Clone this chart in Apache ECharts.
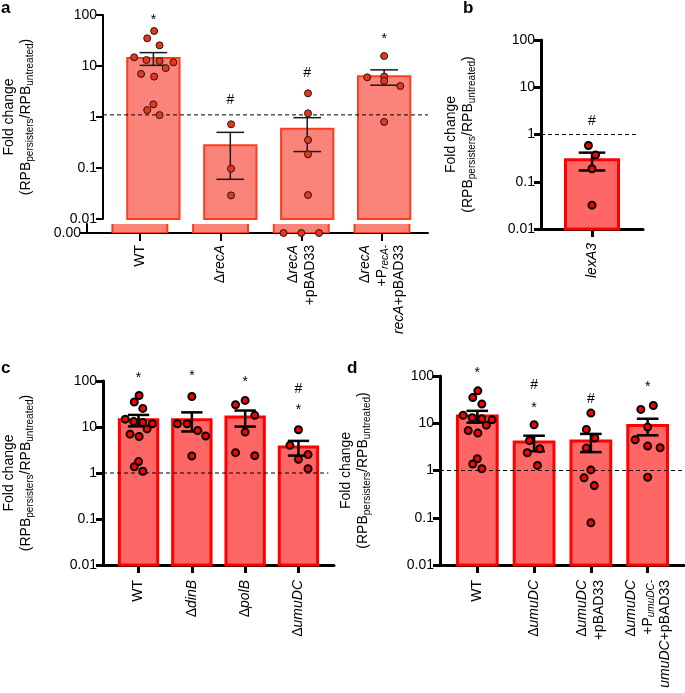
<!DOCTYPE html>
<html>
<head>
<meta charset="utf-8">
<title>Fold change</title>
<script src="https://cdn.jsdelivr.net/npm/echarts@6/dist/echarts.min.js"></script>
<style>
html, body { margin: 0; padding: 0; background: #fff; }
#main { width: 685px; height: 693px; }
</style>
</head>
<body>
<div id="main"></div>
<script>
// ---- data ----
var tickLabels = ['0.01', '0.1', '1', '10', '100'];
var zeroLabel = '0.00';

// panel a
var catA = ['WT', 'Δ{i|recA}', 'Δ{i|recA}\n+pBAD33', 'Δ{i|recA}\n+P{si|recA-}\n{i|recA}+pBAD33'];
var wt = [48.5, 34.9, 25.4, 14.8, 13.1, 12.5, 11.8, 9.1, 7.0, 6.2, 1.77, 1.37, 1.09];
var wtJit = [0.01, -0.08, 0.08, -0.25, -0.09, 0.08, 0.26, 0.16, -0.16, 0.01, 0, -0.08, 0.08];
var recA = [0.72, 0.097, 0.029];
var recAJit = [0.01, 0.01, 0.01];
var recAVec = [2.91, 1.18, 0.354, 0.185, 0.0295, 0, 0, 0];
var recAVecJit = [0.01, 0.01, 0.01, 0.01, 0.01, -0.22, 0, 0.22];
var recACompl = [15.7, 6.0, 6.2, 5.1, 4.05, 0.80];
var recAComplJit = [0, -0.22, 0, 0, 0.21, 0];
var meanA = [14.3, 0.28, 0.59, 6.3];
var semA = [4.0, 0.22, 0.38, 2.1];
var sigA = [['*'], ['#'], ['#'], ['*']];
var sigAY = [[92], [2.15], [7.4], [38.7]];
var refA = 1.1;

// panel b
var catB = ['{i|lexA3}'];
var lexA3 = [0.586, 0.367, 0.188, 0.032];
var lexA3Jit = [-0.035, 0.035, 0, 0];
var meanB = [0.293];
var semB = [0.12];
var sigB = [['#']];
var sigBY = [[1.95]];
var refB = 1;

// panel c
var catC = ['WT', 'Δ{i|dinB}', 'Δ{i|polB}', 'Δ{i|umuDC}'];
var dinB = [46, 11.8, 11.8, 8.4, 6.35, 2.34];
var dinBJit = [0, -0.27, -0.09, 0.11, 0.26, 0];
var polB = [37.8, 30.4, 17.9, 7.76, 2.77, 2.38];
var polBJit = [0, -0.18, 0.18, 0, -0.18, 0.18];
var umuDCc = [8.73, 3.99, 2.51, 1.98, 1.24];
var umuDCcJit = [0, -0.16, 0.18, 0, 0.18];
var meanC = [14.3, 14.4, 16.5, 3.69];
var semC = [4.0, 6.4, 6.3, 1.3];
var sigC = [['*'], ['*'], ['*'], ['#', '*']];
var sigCY = [[131], [147], [108], [67.8, 27]];
var refC = 1;

// panel d
var catD = ['WT', 'Δ{i|umuDC}', 'Δ{i|umuDC}\n+pBAD33', 'Δ{i|umuDC}\n+P{si|umuDC-}\n{i|umuDC}+pBAD33'];
var umuDCd = [9.3, 4.32, 2.88, 2.37, 1.28];
var umuDCdJit = [0, -0.08, 0.1, -0.12, 0.06];
var umuDCVec = [16.4, 7.4, 4.86, 2.98, 1.03, 0.70, 0.48, 0.078];
var umuDCVecJit = [0, -0.08, 0.07, -0.08, 0, -0.12, 0.06, 0];
var umuDCCompl = [23.8, 19.6, 8.3, 4.47, 3.29, 3.03, 0.72];
var umuDCComplJit = [0.1, -0.12, 0, -0.22, 0, 0.22, 0];
var meanD = [14.3, 4.0, 4.2, 9.0];
var semD = [4.0, 1.45, 1.75, 3.45];
var sigD = [['*'], ['#', '*'], ['#'], ['*']];
var sigDY = [[131], [65.4, 24.7], [31.9], [68.7]];
var refD = 1;

// ---- chart ----
var FONT = '"Liberation Sans", Arial, Helvetica, sans-serif';
var yName = 'Fold change\n(RPB{s|persisters}/RPB{s|untreated})';

var option = {
    animation: false,
    backgroundColor: '#fff',
    grid: [], xAxis: [], yAxis: [], series: [],
    graphic: []
};

// bar drawn from "base" up to the value; "fill" > 0 forces the top (used for the broken-axis stub)
function barItem(base, bw, style, fill) {
    return function (params, api) {
        var x = api.value(0), v = fill || api.value(1);
        var top = api.coord([x, v]);
        var bot = api.coord([x, base]);
        var l = api.coord([x - bw / 2, v])[0];
        var r = api.coord([x + bw / 2, v])[0];
        return {
            type: 'rect',
            shape: { x: l, y: top[1], width: r - l, height: bot[1] - top[1] },
            style: style
        };
    };
}

function errItem(cap, style) {
    return function (params, api) {
        var x = api.value(0);
        var lo = api.coord([x, api.value(1)]);
        var hi = api.coord([x, api.value(2)]);
        var l = api.coord([x - cap, api.value(1)])[0];
        var r = api.coord([x + cap, api.value(1)])[0];
        return {
            type: 'group',
            children: [
                { type: 'line', shape: { x1: lo[0], y1: lo[1], x2: hi[0], y2: hi[1] }, style: style },
                { type: 'line', shape: { x1: l, y1: lo[1], x2: r, y2: lo[1] }, style: style },
                { type: 'line', shape: { x1: l, y1: hi[1], x2: r, y2: hi[1] }, style: style }
            ]
        };
    };
}

function addPanel(p) {
    var gi = option.grid.length;
    var lw = p.axisWidth;
    var idx = p.cats.map(function (c, i) { return i; });
    var catRich = {
        i: { fontStyle: 'italic', fontSize: 14, fontFamily: FONT, color: '#000', lineHeight: 17 },
        si: { fontStyle: 'italic', fontSize: 10, fontFamily: FONT, color: '#000', verticalAlign: 'bottom' }
    };
    var bottomX = {
        type: 'value', min: p.xMin, max: p.xMax,
        splitLine: { show: false },
        axisLine: { onZero: false, lineStyle: { color: '#000', width: lw } },
        axisTick: { customValues: idx, length: 8, lineStyle: { color: '#000', width: lw } },
        axisLabel: {
            customValues: idx, rotate: 90, margin: p.labelMargin,
            fontSize: 14, fontFamily: FONT, color: '#000', lineHeight: 17,
            formatter: function (v) { return p.cats[Math.round(v)]; },
            rich: catRich
        }
    };
    var logY = {
        type: 'log', logBase: 10, min: 0.01, max: 100,
        splitLine: { show: false },
        axisLine: { onZero: false, lineStyle: { color: '#000', width: lw } },
        axisTick: { length: 7, lineStyle: { color: '#000', width: lw } },
        axisLabel: {
            fontSize: 14, fontFamily: FONT, color: '#000', margin: 6,
            formatter: function (v) { return tickLabels[Math.round(Math.log(v) / Math.LN10) + 2]; }
        },
        name: yName, nameLocation: 'middle', nameRotate: 90, nameGap: p.nameGap,
        nameTextStyle: {
            fontSize: 14, fontFamily: FONT, color: '#000', lineHeight: 17,
            rich: { s: { fontSize: 10, fontFamily: FONT, color: '#000', verticalAlign: 'bottom' } }
        }
    };

    var upperGrid = gi, lowerGrid = gi;
    if (p.split) {
        option.grid.push({ left: p.left, top: p.top, width: p.width, height: p.height });
        option.grid.push({ left: p.left, top: p.lowTop, width: p.width, height: p.lowHeight });
        lowerGrid = gi + 1;
        option.xAxis.push({
            type: 'value', gridIndex: upperGrid, min: p.xMin, max: p.xMax,
            show: false
        });
        option.yAxis.push(Object.assign({ gridIndex: upperGrid }, logY));
        option.xAxis.push(Object.assign({ gridIndex: lowerGrid }, bottomX));
        option.yAxis.push({
            type: 'value', gridIndex: lowerGrid, min: 0, max: 1,
            splitLine: { show: false },
            axisLine: { onZero: false, lineStyle: { color: '#000', width: lw } },
            axisTick: { customValues: [0], length: 7, lineStyle: { color: '#000', width: lw } },
            axisLabel: {
                customValues: [0], fontSize: 14, fontFamily: FONT, color: '#000', margin: 6,
                formatter: function () { return zeroLabel; }
            }
        });
    } else {
        option.grid.push({ left: p.left, top: p.top, width: p.width, height: p.height });
        option.xAxis.push(Object.assign({ gridIndex: gi }, bottomX));
        option.yAxis.push(Object.assign({ gridIndex: gi }, logY));
    }

    var barStyle = { fill: p.barFill, stroke: p.barStroke, lineWidth: p.barLine };
    var barData = p.means.map(function (m, i) { return [i, m]; });
    option.series.push({
        type: 'custom', xAxisIndex: upperGrid, yAxisIndex: upperGrid, z: 1,
        renderItem: barItem(0.01, p.barWidth, barStyle), data: barData
    });
    if (p.split) {
        // the stub of each bar below the axis break fills the whole lower strip
        option.series.push({
            type: 'custom', xAxisIndex: lowerGrid, yAxisIndex: lowerGrid, z: 1, clip: true,
            renderItem: barItem(0, p.barWidth, barStyle, 3), data: barData
        });
    }

    option.series.push({
        type: 'line', xAxisIndex: upperGrid, yAxisIndex: upperGrid, z: 2, silent: true,
        symbol: 'none',
        lineStyle: { color: '#000', width: 1, type: [4, 3] },
        data: [[p.xMin, p.ref], [p.refTo, p.ref]]
    });

    option.series.push({
        type: 'custom', xAxisIndex: upperGrid, yAxisIndex: upperGrid, z: 3,
        renderItem: errItem(p.cap, { stroke: p.errColor, lineWidth: p.errWidth }),
        data: p.means.map(function (m, i) { return [i, m - p.sems[i], m + p.sems[i]]; })
    });

    var upPts = [], lowPts = [];
    p.pts.forEach(function (vals, i) {
        vals.forEach(function (v, k) {
            var pt = [i + p.jits[i][k], v];
            if (v > 0) upPts.push(pt); else lowPts.push(pt);
        });
    });
    var ptStyle = { color: p.ptFill, borderColor: p.ptBorder, borderWidth: p.ptBorderWidth, opacity: 1 };
    option.series.push({
        type: 'scatter', xAxisIndex: upperGrid, yAxisIndex: upperGrid, z: 4, clip: false,
        symbolSize: p.ptSize, itemStyle: ptStyle, data: upPts
    });
    if (lowPts.length) {
        option.series.push({
            type: 'scatter', xAxisIndex: lowerGrid, yAxisIndex: lowerGrid, z: 4, clip: false,
            symbolSize: p.ptSize, itemStyle: ptStyle, data: lowPts
        });
    }

    var marks = [];
    p.sig.forEach(function (list, i) {
        list.forEach(function (t, k) { marks.push({ x: i, y: p.sigY[i][k], t: t }); });
    });
    option.series.push({
        type: 'custom', xAxisIndex: upperGrid, yAxisIndex: upperGrid, z: 5, clip: false,
        renderItem: function (params, api) {
            var m = marks[params.dataIndex];
            var pos = api.coord([api.value(0), api.value(1)]);
            return {
                type: 'text', x: pos[0], y: pos[1] + (m.t === '*' ? 3 : 0),
                style: { text: m.t, font: '14px ' + FONT, fill: '#000', align: 'center', verticalAlign: 'middle' }
            };
        },
        data: marks.map(function (m) { return [m.x, m.y]; })
    });
}

var soft = { barFill: '#fa837a', barStroke: '#ff3c1e', barLine: 2, ptFill: '#ec3518', ptBorder: '#1a1a1a', ptBorderWidth: 1, ptSize: 7, errColor: '#1a1a1a', errWidth: 1.5 };
var bold = { barFill: '#ff6666', barStroke: '#ff0000', barLine: 3, ptFill: '#ff0000', ptBorder: '#000', ptBorderWidth: 2, ptSize: 7, errColor: '#000', errWidth: 2.5 };

addPanel(Object.assign({
    split: true, left: 87, top: 15, width: 341, height: 204, lowTop: 224, lowHeight: 9,
    xMin: -0.655, xMax: 3.57, refTo: 3.57, axisWidth: 2, labelMargin: 12, nameGap: 68,
    barWidth: 0.68, cap: 0.18,
    cats: catA, means: meanA, sems: semA, pts: [wt, recA, recAVec, recACompl],
    jits: [wtJit, recAJit, recAVecJit, recAComplJit], sig: sigA, sigY: sigAY, ref: refA
}, soft));

addPanel(Object.assign({
    left: 541, top: 40, width: 102, height: 189,
    xMin: -0.5, xMax: 0.5, refTo: 0.44, axisWidth: 3, labelMargin: 14, nameGap: 64,
    barWidth: 0.52, cap: 0.13,
    cats: catB, means: meanB, sems: semB, pts: [lexA3],
    jits: [lexA3Jit], sig: sigB, sigY: sigBY, ref: refB
}, bold));

addPanel(Object.assign({
    left: 87, top: 381, width: 247, height: 184,
    xMin: -0.667, xMax: 3.667, refTo: 3.56, axisWidth: 3, labelMargin: 15, nameGap: 68,
    barWidth: 0.72, cap: 0.2,
    cats: catC, means: meanC, sems: semC, pts: [wt, dinB, polB, umuDCc],
    jits: [wtJit, dinBJit, polBJit, umuDCcJit], sig: sigC, sigY: sigCY, ref: refC
}, bold));

addPanel(Object.assign({
    left: 440, top: 376, width: 244, height: 189,
    xMin: -0.657, xMax: 3.64, refTo: 3.64, axisWidth: 3, labelMargin: 15, nameGap: 68,
    barWidth: 0.70, cap: 0.19,
    cats: catD, means: meanD, sems: semD, pts: [wt, umuDCd, umuDCVec, umuDCCompl],
    jits: [wtJit, umuDCdJit, umuDCVecJit, umuDCComplJit], sig: sigD, sigY: sigDY, ref: refD
}, bold));

option.graphic = [
    { type: 'text', left: 1, top: 0, style: { text: 'a', font: 'bold 17px ' + FONT, fill: '#000' } },
    { type: 'text', left: 463, top: 0, style: { text: 'b', font: 'bold 17px ' + FONT, fill: '#000' } },
    { type: 'text', left: 1, top: 360, style: { text: 'c', font: 'bold 17px ' + FONT, fill: '#000' } },
    { type: 'text', left: 347, top: 360, style: { text: 'd', font: 'bold 17px ' + FONT, fill: '#000' } }
];

var myChart = echarts.init(document.getElementById('main'));
myChart.setOption(option);
window.addEventListener('resize', function () {
    myChart.resize();
});
</script>
</body>
</html>
